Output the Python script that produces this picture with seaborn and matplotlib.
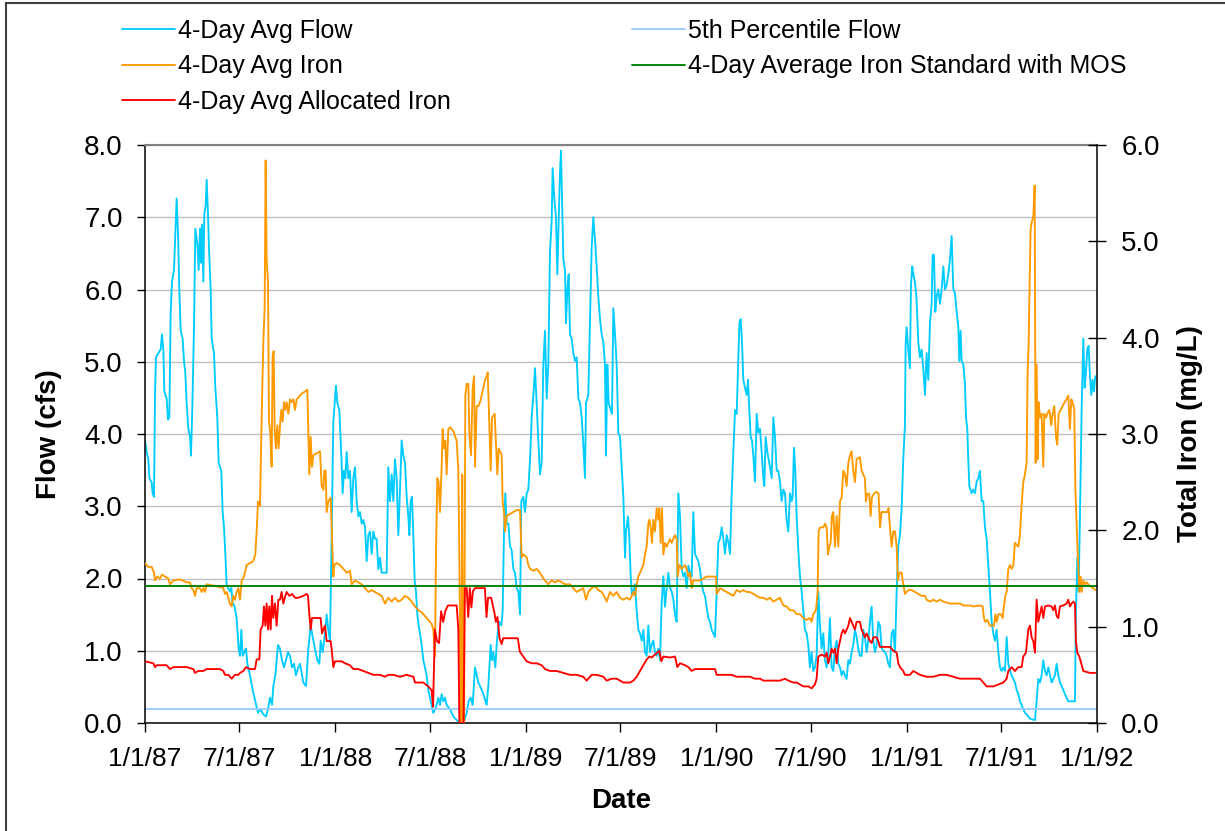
import numpy as np
import pandas as pd
import matplotlib
matplotlib.use("Agg")
import matplotlib.pyplot as plt
import matplotlib.dates as mdates
from matplotlib.ticker import FuncFormatter
import seaborn as sns

# days since 1/1/87 and values
flow_day = [0, 3.2, 6.4, 8.3, 12.8, 14.7, 17.3, 19.2, 21.1, 25.6, 30.0, 32.6, 35.2, 37.1, 41.5, 44.1, 46.7, 49.2, 51.8,
            55.6, 58.2, 60.7, 63.3, 65.8, 68.4, 72.2, 74.8, 77.3, 79.9, 83.1, 86.3, 88.2, 90.8, 94.0, 96.5, 100.4,
            102.9, 105.5, 107.4, 109.3, 111.9, 113.8, 116.3, 118.3, 120.8, 122.7, 125.9, 127.9, 132.3, 134.9, 138.7,
            141.3, 146.4, 148.9, 151.5, 154.1, 156.6, 159.2, 163.0, 165.6, 168.1, 172.0, 175.8, 179.6, 182.2, 184.8,
            187.3, 193.7, 196.3, 201.4, 206.5, 211.6, 216.7, 221.8, 226.9, 232.1, 235.9, 239.7, 243.6, 246.1, 250.0,
            252.5, 255.1, 258.9, 262.7, 266.6, 270.4, 274.2, 278.1, 281.9, 285.8, 289.6, 294.1,
            297.3, 303.7, 308.8, 313.3, 317.8, 321.6, 326.1, 330.5, 334.4, 336.9, 340.8, 345.2, 348.4, 351.6, 354.8,
            358.0, 361.2, 363.8, 366.3, 368.9, 372.7, 375.3, 377.2, 379.1, 381.7, 384.2, 386.8, 390.0, 393.2, 396.4,
            399.6, 402.8, 406.0, 409.2, 412.4, 415.6, 418.8, 422.0, 425.2, 428.4, 431.6, 434.8, 438.0, 441.1, 444.3,
            447.5, 450.7, 453.9, 463.5, 466.7, 469.9, 473.1, 476.3, 479.5, 482.7, 485.9, 489.1, 492.3, 495.5, 498.7,
            501.9, 505.1, 507.0, 509.5, 512.1, 514.7, 517.2, 519.8, 522.3, 524.9, 527.4, 530.6, 533.8, 537.0, 540.2,
            543.4, 546.6, 549.8, 553.0, 556.2, 559.4, 562.6, 565.8, 569.0, 572.2, 575.4, 578.6, 585.0, 591.4, 597.8,
            604.2, 610.6, 617.0, 620.8, 624.7, 628.5, 633.0, 636.2, 639.4, 645.8, 649.0, 655.3, 658.5, 663.0, 665.6,
            668.1, 672.0, 674.5, 677.1, 679.6, 683.5, 686.0, 688.6, 691.1, 693.7, 696.9, 700.1, 703.3, 706.5, 709.7,
            712.9, 716.1, 719.3, 721.8, 725.7, 728.9, 732.1, 735.3, 738.5, 741.7, 744.9, 748.0, 751.2, 754.4, 757.6,
            760.8, 764.0, 767.2, 770.4, 773.6, 776.8, 780.0, 781.9, 785.1, 788.3, 790.9, 793.4, 796.0, 797.9, 800.5,
            802.4, 805.6, 807.5, 810.1, 812.6, 815.2, 818.4, 821.6, 824.8, 828.0, 831.2, 834.4, 837.6, 840.7, 843.9,
            845.9, 850.3, 853.5, 856.7, 859.9, 863.1, 866.3, 869.5, 872.7, 875.9, 879.1, 882.3, 884.2, 886.8, 889.3,
            893.2, 895.7, 898.3, 901.5, 904.7, 907.9, 911.1,
            917.5, 920.7, 922.6, 926.4, 929.0, 931.6, 934.1, 936.7, 939.9, 943.1, 946.3, 949.5, 952.7, 955.9, 959.0,
            962.2, 965.4, 968.6, 971.8, 975.0, 978.2, 981.4, 984.6, 987.8, 991.0, 994.2, 997.4, 1000.6, 1003.8,
            1007.0, 1010.2, 1013.4, 1016.6, 1019.8, 1023.0, 1026.2, 1029.4, 1032.6, 1035.8, 1039.0, 1042.2, 1045.4,
            1048.5, 1051.7, 1054.9, 1058.1, 1061.3, 1064.5, 1067.7, 1070.9, 1074.1, 1077.3, 1080.5, 1083.7, 1086.9,
            1090.1, 1093.3, 1096.5, 1099.7, 1102.9, 1106.1, 1109.3, 1112.5, 1115.7, 1118.9, 1122.1, 1125.3, 1128.5,
            1131.7, 1134.9, 1138.0, 1140.0, 1142.5, 1145.1, 1147.6, 1150.8, 1154.0, 1156.6, 1159.1, 1161.7, 1164.3,
            1166.8, 1170.0, 1173.2, 1176.4, 1179.6, 1182.8, 1186.0, 1187.9, 1190.5, 1193.7, 1196.2, 1198.8, 1202.0,
            1205.2, 1208.4, 1211.6, 1214.8, 1218.0,
            1221.1, 1224.3, 1227.5, 1230.7, 1233.9, 1237.1, 1240.3, 1242.2, 1244.8, 1247.3, 1249.9, 1253.1, 1256.3,
            1259.5, 1262.7, 1265.8, 1269.0, 1272.2, 1275.4, 1278.6, 1281.8, 1285.0, 1288.2, 1291.4, 1294.6, 1297.8,
            1301.0, 1304.2, 1307.4, 1310.6, 1313.8, 1317.0, 1320.2, 1323.4, 1326.6, 1329.8, 1333.0, 1336.2, 1339.4,
            1342.6, 1345.8, 1349.0, 1352.2, 1355.3, 1358.5, 1361.7, 1364.9, 1368.1, 1371.3, 1374.5, 1377.7, 1380.9,
            1384.1, 1387.3, 1390.5, 1393.7, 1396.9, 1400.1, 1403.3, 1406.5, 1409.7, 1412.9, 1419.3, 1422.5, 1425.7,
            1428.9, 1432.1, 1435.3, 1438.5, 1441.7, 1444.9, 1448.1, 1451.3, 1454.4, 1457.6, 1458.9, 1460.8, 1464.0,
            1467.2, 1469.2, 1471.7, 1473.6, 1476.8, 1480.0, 1483.2, 1486.4, 1489.6, 1492.8, 1496.0, 1499.2, 1502.4,
            1505.6, 1508.8, 1510.7, 1513.3, 1515.8, 1518.4, 1521.6, 1524.8, 1528.0,
            1531.2, 1534.4, 1537.6, 1540.8, 1544.0, 1547.2, 1550.4, 1553.6, 1556.8, 1560.0, 1561.9, 1564.4, 1566.4,
            1569.6, 1572.7, 1574.7, 1577.2, 1579.1, 1581.1, 1585.5, 1588.7, 1591.9, 1595.1, 1598.3, 1601.5, 1604.7,
            1607.9, 1611.1, 1614.3, 1617.5, 1620.7, 1623.9, 1627.1, 1630.3, 1633.5, 1636.7, 1639.9, 1643.1, 1646.3,
            1649.5, 1652.7, 1655.9, 1659.1, 1662.3, 1665.5, 1668.6, 1671.8, 1675.0, 1678.2, 1681.4, 1684.6, 1687.8,
            1691.0, 1697.4, 1707.0, 1710.2, 1713.4, 1716.6, 1719.8, 1723.0, 1726.2, 1729.4, 1732.6, 1735.8, 1739.0,
            1742.2, 1745.4, 1748.6, 1751.8, 1755.0, 1758.2, 1761.3, 1764.5, 1767.7, 1770.9, 1783.7, 1785.6, 1788.2,
            1790.7, 1793.3, 1796.5, 1799.7, 1802.3, 1804.8, 1807.4, 1809.9, 1812.5, 1815.1, 1817.6, 1820.2, 1822.7]
flow_cfs = [3.91, 3.75, 3.65, 3.39, 3.33, 3.18, 3.13, 4.54, 5.06, 5.12, 5.17, 5.38, 5.17, 4.59, 4.49, 4.20, 4.23, 5.69, 6.11,
            6.27, 6.79, 7.26, 6.79, 6.00, 5.43, 5.32, 5.01, 4.85, 4.43, 4.07, 3.96, 3.70, 4.38, 5.48, 6.84, 6.63,
            6.27, 6.84, 6.37, 6.90, 6.11, 7.05, 7.16, 7.52, 7.05, 6.58, 6.00, 5.32, 5.12, 4.64, 4.23,
            3.60, 3.49, 2.92, 2.71, 2.34, 1.92, 1.87, 1.82, 1.87, 1.66, 1.61, 1.45, 1.03, 0.93, 1.29,
            0.93, 1.03, 0.82, 0.66, 0.46, 0.30, 0.14, 0.19, 0.12, 0.09, 0.19, 0.35, 0.25, 0.51, 0.66,
            0.87, 1.08, 1.03, 0.87, 0.77, 0.87, 0.98, 0.93, 0.77, 0.82, 0.66, 0.77,
            0.82, 0.56, 0.51, 1.03, 1.35, 1.19, 1.03, 0.87, 0.82, 1.14, 0.98, 1.24, 1.50, 1.29, 1.14,
            2.60, 4.17, 4.43, 4.67, 4.43, 4.33, 3.91, 3.60, 3.18, 3.49, 3.39, 3.75, 3.39, 3.49, 2.92,
            3.39, 3.54, 3.07, 2.86, 2.92, 2.76, 2.81, 2.71, 2.24, 2.60, 2.65, 2.34, 2.65, 2.55, 2.55,
            2.13, 2.29, 2.08, 2.08, 3.54, 3.07, 3.44, 3.07, 3.65, 3.39, 2.60, 3.23, 3.91, 3.70, 3.60,
            3.13, 2.86, 2.60, 3.07, 3.13, 2.60, 1.97, 1.82, 1.50, 1.35, 1.24, 1.08, 0.87, 0.77, 0.66,
            0.46, 0.35, 0.25, 0.14, 0.19, 0.25, 0.35, 0.25, 0.40, 0.30, 0.35, 0.25, 0.19, 0.09, 0.04,
            0.00, 0.00, 0.14, 0.30, 0.35, 0.25, 0.77, 0.66, 0.56, 0.46, 0.40, 0.25, 0.51, 1.08, 0.87,
            0.98, 0.77, 1.08, 1.29, 1.40, 1.35, 1.55, 2.65, 3.18, 2.76, 2.76, 2.45, 2.39, 2.13, 2.08,
            1.87, 1.82, 1.50, 3.07, 3.13, 2.92, 3.18, 3.23, 3.65, 4.23, 4.54, 4.91, 4.43, 3.91, 3.44,
            3.60, 4.96, 5.43, 4.49, 4.96, 6.53, 6.95, 7.68, 7.26, 7.00, 6.21, 6.95, 7.63, 7.92, 7.05,
            6.42, 6.27, 5.53, 6.00, 6.21, 5.38, 5.32, 5.12, 5.01, 5.06, 4.49, 4.43, 4.23, 3.86, 3.39,
            4.43, 4.54, 5.53, 6.58, 7.00, 6.69, 6.32, 5.90, 5.59, 5.38, 5.27, 4.96, 3.70, 4.96, 4.43,
            4.33, 4.28, 5.74, 5.38, 4.96, 4.02, 3.96,
            3.13, 2.29, 2.65, 2.86, 2.55, 2.03, 1.76, 1.82, 1.92, 1.55, 1.29, 1.24, 1.14, 1.29, 0.98,
            0.93, 1.35, 0.98, 1.08, 1.14, 0.98, 0.93, 1.03, 0.87, 1.66, 2.03, 1.61, 1.87, 2.08,
            1.87, 1.82, 1.71, 1.50, 1.40, 3.18, 2.86, 2.13, 2.03, 2.08, 1.87, 2.18, 2.08,
            2.03, 2.92, 2.34, 2.29, 2.24, 2.13, 1.92, 1.82, 1.76, 1.61, 1.45, 1.40, 1.29,
            1.24, 1.19, 1.82, 2.50, 2.55, 2.71, 2.55, 2.34, 2.60, 2.50, 2.34, 3.18, 3.75,
            4.33, 4.28, 5.06, 5.53, 5.59, 5.27, 4.75, 4.64, 4.54, 4.75, 4.33, 3.96, 3.91,
            3.70, 3.34, 4.28, 4.02, 4.07, 3.75, 3.39, 3.28, 3.96, 3.75, 3.65, 3.54, 3.39,
            4.23, 3.96, 3.49, 3.49, 3.34,
            3.07, 3.23, 3.18, 2.81, 2.65, 3.18, 3.07, 3.13, 3.81, 3.49, 2.86, 2.39, 2.03,
            1.82, 1.55, 1.29, 1.24, 1.08, 0.77, 0.98, 0.72, 0.77, 0.93, 1.82, 1.35, 1.03,
            1.24, 0.87, 0.77, 0.98, 1.45, 0.77, 0.72, 1.03, 1.14, 0.82, 0.77, 0.66, 0.72,
            0.66, 0.61, 0.87, 0.82, 0.98, 1.08, 1.29, 1.19, 1.03, 0.93, 0.93, 1.29, 1.19,
            0.98, 1.14, 1.40, 1.61, 1.14, 0.98, 1.08, 1.40, 1.35, 1.03, 0.98, 0.93, 0.82,
            0.77, 1.24, 1.29, 0.98, 1.82, 2.45, 2.60, 2.97, 3.65, 4.12, 5.22, 5.48, 5.17,
            4.91, 6.06, 6.32, 6.21, 6.11, 5.85, 5.27, 5.06, 5.17, 4.91, 4.54, 5.12, 4.75,
            5.53, 5.80, 6.48, 6.48, 5.69, 5.90, 6.00, 5.80, 6.00,
            6.32, 6.00, 6.06, 6.21, 6.42, 6.74, 6.00, 5.95, 5.69, 5.48, 5.01, 5.43, 5.01,
            4.96, 4.70, 4.23, 4.07, 3.65, 3.28, 3.18, 3.23, 3.18, 3.34, 3.39, 3.49, 3.07,
            3.07, 2.71, 2.55, 2.18, 1.82, 1.40, 1.24, 1.14, 1.29, 0.98, 0.77, 0.72, 0.77,
            0.72, 1.19, 0.82, 0.72, 0.66, 0.61, 0.56, 0.46, 0.40, 0.30, 0.25, 0.19, 0.14,
            0.12, 0.06, 0.04, 0.30, 0.61, 0.56, 0.66, 0.87, 0.72, 0.66, 0.77, 0.66, 0.56,
            0.61, 0.66, 0.82, 0.66, 0.56, 0.51, 0.46, 0.40, 0.35, 0.30, 0.30, 1.55, 2.29,
            1.82, 2.86, 4.33, 5.32, 4.64, 4.85, 5.17, 5.22, 4.80, 4.54, 4.75, 4.59, 4.80]

iron_day = [0, 6.4, 12.8, 17.3, 19.2, 23.6, 28.8, 32.6, 38.3, 44.7, 47.9, 54.3, 67.1, 79.9, 86.3, 89.5, 92.7, 95.9,
            99.1, 105.5, 108.7, 111.9, 115.1, 118.3, 137.4, 150.2, 153.4, 156.6, 159.8, 163.0, 166.2, 169.4, 172.6,
            175.8, 179.0, 182.2, 185.4, 189.9, 195.0, 201.4, 207.8, 211.6, 214.2, 216.7, 220.6, 221.8, 224.4, 226.9,
            229.5, 231.4, 233.3, 235.9, 237.8, 240.4, 242.9, 244.8, 246.8, 248.7, 251.2, 253.8, 256.3, 258.9, 261.5,
            264.0, 266.6, 269.1, 271.7, 274.9, 278.1, 281.3, 284.5, 287.7, 290.9, 297.3,
            300.5, 306.9, 311.4, 313.3, 315.2, 317.8, 320.3, 322.9, 335.7, 338.9, 342.1, 344.0, 346.5, 348.4, 351.6,
            356.1, 358.7, 361.2, 363.1, 367.6, 374.0, 380.4, 386.8, 393.2, 396.4, 402.8, 409.2, 415.6, 422.0, 428.4,
            434.8, 441.1, 447.5, 453.9, 460.3, 466.7, 473.1, 479.5, 485.9, 492.3, 498.7, 505.1, 511.5, 517.9, 524.3,
            530.6, 537.0, 543.4, 549.8, 553.0, 556.2, 558.1, 560.7, 563.2, 565.8, 569.0, 570.9, 573.5, 576.0, 578.6,
            581.8, 585.0, 591.4, 597.8, 601.0, 602.9, 604.8, 606.7, 608.5, 610.0, 612.0,
            614.4, 617.0, 620.2, 622.1, 625.3, 628.5, 631.1, 633.0, 636.2, 639.4, 642.6, 645.8, 649.0, 652.1, 655.3,
            657.3, 660.5, 663.0, 665.6, 670.7, 673.2, 675.8, 678.4, 684.1, 686.0, 688.6, 690.5, 693.7, 700.1, 712.9,
            719.3, 722.5, 725.7, 732.1, 735.3, 738.5, 744.9, 751.2, 757.6, 764.0, 767.2, 773.6, 780.0, 786.4, 792.8,
            799.2, 805.6, 815.2, 821.6, 828.0, 834.4, 840.7, 845.9, 850.3, 856.7, 863.1, 869.5, 875.9, 882.3, 885.5,
            891.9, 898.3, 904.7, 911.1,
            917.5, 923.9, 930.3, 936.7, 939.9, 943.1, 946.3, 949.5, 955.9, 959.0, 962.2, 965.4, 967.4, 969.9, 972.5,
            975.0, 978.2, 981.4, 984.6, 986.5, 989.1, 991.6, 994.2, 997.4, 1000.6, 1003.8, 1007.0, 1010.2, 1013.4,
            1016.6, 1019.8, 1021.7, 1024.9, 1029.4, 1035.8, 1039.0, 1042.2, 1045.4, 1048.5, 1051.7, 1064.5, 1070.9,
            1077.3, 1095.2, 1096.5, 1102.9, 1109.3, 1115.7, 1122.1, 1128.5, 1134.9, 1141.3, 1147.6, 1154.0, 1160.4,
            1166.8, 1173.2, 1179.6, 1186.0, 1192.4, 1198.8, 1205.2, 1211.6, 1218.0,
            1224.3, 1230.7, 1237.1, 1243.5, 1249.9, 1256.3, 1262.7, 1269.0, 1275.4, 1278.6, 1281.8, 1287.0, 1290.1,
            1292.1, 1294.6, 1301.0, 1304.2, 1307.4, 1310.0, 1312.5, 1315.1, 1317.6, 1320.2, 1323.4, 1326.6, 1329.8,
            1333.0, 1336.2, 1339.4, 1342.6, 1345.8, 1349.0, 1352.2, 1355.3, 1358.5, 1361.7, 1364.9, 1371.3, 1374.5,
            1377.7, 1380.9, 1382.8, 1385.4, 1389.2, 1391.8, 1394.3, 1398.2, 1403.3, 1407.1, 1409.7, 1412.9, 1423.8,
            1426.3, 1428.9, 1432.1, 1435.3, 1438.5, 1441.7, 1444.2, 1446.8, 1451.3, 1454.4, 1457.6, 1464.0, 1470.4,
            1476.8, 1483.2, 1489.6, 1496.0, 1499.2, 1505.6, 1512.0, 1518.4, 1524.8,
            1531.2, 1544.0, 1563.2, 1569.6, 1582.3, 1588.7, 1601.5, 1606.6, 1609.2, 1611.7, 1615.6, 1620.7, 1628.4,
            1630.9, 1633.5, 1636.7, 1641.2, 1645.0, 1647.5, 1650.1, 1652.7, 1655.9, 1659.1, 1662.3, 1665.5, 1668.6,
            1675.0, 1678.2, 1681.4, 1684.6, 1687.8, 1691.0, 1692.9, 1694.9, 1696.8, 1698.7, 1701.2, 1703.8, 1706.4,
            1708.3, 1710.2, 1712.1, 1714.0, 1716.6, 1719.8, 1723.0, 1724.9, 1728.1, 1730.7, 1734.5, 1738.3, 1740.9,
            1744.1, 1747.3, 1749.8, 1752.4, 1756.2, 1760.1, 1763.9, 1767.7, 1770.9, 1774.1, 1776.7, 1779.2, 1782.4,
            1784.4, 1786.9, 1789.5, 1792.0, 1794.6, 1796.5, 1799.7, 1802.9, 1806.1, 1812.5, 1818.9, 1822.7]
iron_mgl = [1.66, 1.62, 1.62, 1.56, 1.48, 1.52, 1.50, 1.54, 1.52, 1.50, 1.44, 1.48, 1.49, 1.46, 1.46, 1.40, 1.38, 1.32,
            1.40, 1.40, 1.36, 1.40, 1.36, 1.44, 1.42, 1.40, 1.34, 1.36, 1.30, 1.24, 1.21, 1.32, 1.28,
            1.36, 1.40, 1.28, 1.48, 1.52, 1.64, 1.66, 1.68, 1.75, 1.99, 2.30, 2.25, 2.62, 3.33, 3.95,
            4.31, 5.84, 4.82, 4.58, 3.13, 3.01, 2.66, 3.80, 3.86, 3.05, 2.85, 3.09, 2.85, 3.09, 3.25,
            3.13, 3.33, 3.25, 3.33, 3.21, 3.36, 3.33, 3.36, 3.25, 3.36, 3.40,
            3.42, 3.44, 3.46, 3.01, 2.58, 2.97, 2.66, 2.78, 2.82, 2.46, 2.42, 2.62, 2.62, 2.19, 2.30,
            2.34, 1.91, 1.52, 1.64, 1.66, 1.64, 1.60, 1.56, 1.58, 1.44, 1.48, 1.46, 1.44, 1.40, 1.36,
            1.38, 1.36, 1.34, 1.32, 1.24, 1.30, 1.26, 1.30, 1.26, 1.28, 1.32, 1.30, 1.26, 1.21, 1.17,
            1.15, 1.11, 1.07, 1.03, 0.97, 0.69, 1.75, 2.54, 2.50, 2.19, 2.66, 3.05, 2.85, 2.93, 2.58,
            3.05, 3.07, 3.03, 2.93, 2.62, 1.75, 0.58, 0.00, 2.58, 0.00, 0.00,
            3.40, 3.52, 3.52, 3.01, 2.78, 3.48, 3.60, 2.66, 3.29, 3.29, 3.33, 3.40, 3.48, 3.56, 3.60,
            3.64, 3.09, 2.62, 3.17, 3.21, 2.89, 2.58, 2.85, 2.78, 2.30, 2.19, 1.99, 2.15, 2.17, 2.21,
            2.21, 1.72, 1.75, 1.72, 1.64, 1.60, 1.58, 1.60, 1.56, 1.50, 1.48, 1.44, 1.48, 1.46, 1.48,
            1.46, 1.44, 1.44, 1.40, 1.36, 1.38, 1.40, 1.28, 1.36, 1.40, 1.42, 1.38, 1.36, 1.30, 1.26,
            1.36, 1.32, 1.36, 1.30,
            1.28, 1.30, 1.28, 1.36, 1.32, 1.44, 1.52, 1.56, 1.64, 1.75, 1.83, 2.07, 2.11, 2.03, 1.87,
            2.11, 1.99, 2.23, 2.11, 2.23, 1.87, 2.23, 1.75, 1.87, 1.83, 1.87, 1.91, 1.87, 1.91,
            1.95, 1.91, 1.52, 1.64, 1.60, 1.64, 1.60, 1.52, 1.56, 1.40, 1.48, 1.48, 1.50,
            1.52, 1.52, 1.34, 1.40, 1.38, 1.36, 1.34, 1.32, 1.38, 1.36, 1.38, 1.36, 1.36,
            1.34, 1.32, 1.30, 1.30, 1.28, 1.30, 1.26, 1.28, 1.30,
            1.22, 1.21, 1.17, 1.17, 1.13, 1.13, 1.09, 1.07, 1.09, 1.05, 1.13, 1.17, 1.36,
            1.99, 2.03, 2.03, 2.07, 2.03, 1.75, 1.83, 1.87, 2.15, 2.19, 1.83, 2.15, 1.83,
            2.30, 2.34, 2.62, 2.58, 2.46, 2.70, 2.78, 2.82, 2.62, 2.50, 2.74, 2.76, 2.62,
            2.58, 2.54, 2.30, 2.38, 2.38, 2.15, 2.34, 2.38, 2.40, 2.38, 2.03, 2.19, 2.19,
            2.23, 2.03, 1.83, 1.99, 1.99, 1.83, 1.48, 1.56, 1.56, 1.44, 1.34, 1.38, 1.38,
            1.36, 1.34, 1.32, 1.32, 1.28, 1.26, 1.28, 1.26, 1.28,
            1.26, 1.24, 1.24, 1.22, 1.22, 1.21, 1.22, 1.21, 1.09, 1.05, 1.07, 1.01, 1.01,
            1.13, 1.05, 1.13, 1.13, 1.09, 1.21, 1.32, 1.36, 1.60, 1.64, 1.60, 1.64, 1.87,
            1.83, 1.95, 2.27, 2.50, 2.58, 2.70, 3.64, 3.95, 4.58, 5.13, 5.21, 5.25, 5.58,
            2.70, 3.72, 2.74, 3.33, 3.17, 3.21, 2.66, 3.21, 3.17, 3.21, 3.25, 3.09, 3.21,
            3.29, 2.97, 2.89, 3.21, 3.25, 3.29, 3.33, 3.36, 3.40, 3.05, 3.36, 3.33, 3.25,
            2.46, 2.07, 1.72, 1.36, 1.52, 1.36, 1.48, 1.44, 1.46, 1.42, 1.40, 1.38]

alloc_day = [0, 16.0, 19.2, 22.4, 41.5, 47.9, 54.3, 79.9, 92.7, 95.9, 102.3, 111.9, 118.3, 143.8, 150.2, 153.4,
             159.8, 166.2, 172.6, 179.0, 182.2, 188.6, 193.7, 201.4, 210.9, 214.2, 219.3, 221.8, 225.7, 228.2,
             230.8, 233.3, 235.9, 238.4, 241.0, 243.6, 246.1, 249.3, 252.5, 255.7, 258.9, 262.1, 265.3, 269.1,
             271.7, 276.8, 281.9, 287.7, 294.1,
             303.7, 310.1, 312.6, 315.2, 317.8, 320.3, 336.9, 339.5, 342.1, 345.2, 348.4, 356.1, 358.7, 361.2,
             364.4, 377.2, 383.6, 393.2, 399.6, 409.2, 418.8, 428.4, 438.0, 450.7, 460.3, 466.7, 476.3, 489.1,
             501.9, 514.7, 517.9, 533.8, 543.4, 549.8, 552.5, 556.0, 560.0, 564.0, 568.0, 572.0, 576.0, 581.0,
             597.8, 601.0, 603.0, 611.0, 613.5, 617.0, 620.0, 623.0, 626.0, 629.0, 633.0, 646.0, 652.0, 655.0,
             658.0, 664.0, 670.0, 673.0, 676.0, 680.0, 684.0, 687.0, 715.0, 719.0,
             732.1, 741.7, 751.2, 760.8, 767.2, 776.8, 789.6, 802.4, 815.2, 828.0, 840.7, 847.1, 856.7, 866.3,
             879.1, 885.5, 895.1, 904.7, 911.1,
             917.5, 930.3, 936.7, 943.1, 949.5, 955.9, 962.2, 967.4, 971.8, 978.2, 982.7, 986.5, 990.4, 994.2,
             1007.0, 1016.6, 1021.1, 1026.2, 1035.8, 1042.2, 1048.5, 1054.9, 1093.3, 1096.5, 1125.3, 1134.9,
             1160.4, 1170.0, 1179.6, 1186.0, 1218.0,
             1227.5, 1233.9, 1243.5, 1249.9, 1256.3, 1262.7, 1272.2, 1278.6, 1285.0, 1288.2, 1291.4, 1297.8,
             1304.2, 1307.4, 1310.6, 1313.8, 1317.0, 1320.2, 1323.4, 1326.6, 1329.8, 1333.0, 1336.2, 1339.4,
             1342.6, 1345.8, 1349.0, 1352.2, 1355.3, 1358.5, 1361.7, 1364.9, 1371.3, 1374.5, 1377.7, 1380.9,
             1384.1, 1387.3, 1390.5, 1393.7, 1396.9, 1403.3, 1406.5, 1409.7, 1428.9, 1435.3, 1441.7, 1444.9,
             1448.1, 1454.4, 1457.6, 1467.2, 1473.6, 1480.0, 1486.4, 1499.2, 1512.0, 1524.8,
             1537.6, 1550.4, 1563.2, 1601.5, 1607.9, 1614.3, 1627.1, 1636.7, 1646.3, 1652.7, 1655.9, 1662.3,
             1668.6, 1675.0, 1681.4, 1684.6, 1689.7, 1694.2, 1697.4, 1700.6, 1703.8, 1707.0, 1710.2, 1713.4,
             1716.6, 1719.8, 1723.0, 1726.2, 1732.6, 1739.0, 1742.2, 1745.4, 1748.6, 1751.8, 1755.0, 1761.3,
             1767.7, 1770.9, 1774.1, 1777.3, 1780.5, 1783.7, 1785.6, 1788.2, 1792.0, 1795.8, 1799.7, 1812.5,
             1822.7]
alloc_mgl = [0.64, 0.62, 0.58, 0.60, 0.60, 0.56, 0.58, 0.58, 0.56, 0.52, 0.54, 0.54, 0.56, 0.56, 0.54, 0.50,
             0.50, 0.46, 0.50, 0.50, 0.52, 0.54, 0.58, 0.56, 0.56, 0.66, 0.66, 0.97, 1.01, 1.21,
             1.01, 1.24, 0.97, 1.21, 0.97, 1.32, 1.09, 1.24, 1.01, 1.28, 1.28, 1.36, 1.24, 1.32,
             1.36, 1.32, 1.34, 1.30, 1.30,
             1.32, 1.34, 1.32, 1.13, 0.97, 1.09, 1.09, 0.93, 0.97, 1.01, 0.85, 0.85, 0.73, 0.58,
             0.64, 0.64, 0.62, 0.60, 0.56, 0.56, 0.54, 0.52, 0.50, 0.50, 0.48, 0.50, 0.50, 0.48,
             0.50, 0.48, 0.42, 0.42, 0.38, 0.34, 0.17, 0.97, 0.85, 0.83, 1.16, 1.05, 1.16, 1.22,
             1.22, 0.97, 0.00, 0.00, 1.40, 1.40, 1.10, 1.40, 1.20, 1.37, 1.40, 1.40, 1.40, 1.10,
             1.30, 1.30, 1.15, 1.05, 1.10, 0.88, 0.82, 0.88, 0.88, 0.74,
             0.64, 0.62, 0.62, 0.60, 0.56, 0.54, 0.54, 0.52, 0.50, 0.50, 0.48, 0.44, 0.50, 0.50,
             0.48, 0.44, 0.46, 0.46, 0.44,
             0.42, 0.42, 0.44, 0.48, 0.54, 0.60, 0.66, 0.69, 0.68, 0.71, 0.73, 0.75, 0.64, 0.69,
             0.68, 0.69, 0.58, 0.62, 0.60, 0.58, 0.54, 0.56, 0.56, 0.50, 0.50, 0.48,
             0.48, 0.46, 0.46, 0.44, 0.44,
             0.46, 0.44, 0.42, 0.42, 0.40, 0.38, 0.38, 0.36, 0.40, 0.46, 0.69, 0.71,
             0.69, 0.73, 0.62, 0.69, 0.77, 0.73, 0.77, 0.62, 0.77, 0.85, 0.93, 0.97,
             0.93, 0.97, 1.01, 1.09, 1.05, 1.01, 0.97, 1.05, 1.05, 0.97, 0.93, 0.89,
             0.93, 0.89, 0.85, 0.83, 0.89, 0.89, 0.85, 0.79, 0.79, 0.75, 0.73, 0.62,
             0.58, 0.54, 0.50, 0.50, 0.54, 0.52, 0.50, 0.48, 0.48, 0.50,
             0.50, 0.48, 0.46, 0.46, 0.42, 0.38, 0.38, 0.40, 0.42, 0.46, 0.54, 0.58,
             0.54, 0.58, 0.58, 0.69, 0.73, 0.97, 1.01, 0.89, 0.85, 0.73, 1.28, 1.05,
             1.13, 1.21, 1.09, 1.21, 1.22, 1.21, 1.17, 1.22, 1.11, 1.09, 1.21, 1.22,
             1.24, 1.28, 1.21, 1.24, 1.26, 1.24, 0.85, 0.73, 0.69, 0.62, 0.54, 0.52,
             0.52]

pct5_flow = 0.2        # cfs
iron_std_mos = 1.425   # mg/L

start = pd.Timestamp("1987-01-01")
end = pd.Timestamp("1992-01-01")


def to_dates(days):
    return start + pd.to_timedelta(np.array(days), unit="D")


sns.set_theme(style="white", rc={"text.color": "black", "axes.labelcolor": "black",
                                 "xtick.color": "black", "ytick.color": "black"})
plt.rcParams["font.family"] = ["Liberation Sans", "DejaVu Sans"]

W, H = 1225, 831
fig = plt.figure(figsize=(W / 100, H / 100), dpi=100)
ax = fig.add_axes([145 / W, 1 - 723 / H, (1097 - 145) / W, (723 - 145) / H])
ax2 = ax.twinx()

lw = 1.35
sns.lineplot(x=to_dates(flow_day), y=flow_cfs, ax=ax, color="#00CCFF", lw=lw, estimator=None)
l_flow = ax.lines[-1]
l_pct = ax.axhline(pct5_flow, color="#99CCFF", lw=lw)

sns.lineplot(x=to_dates(iron_day), y=iron_mgl, ax=ax2, color="#FF9900", lw=lw, estimator=None)
l_iron = ax2.lines[-1]
sns.lineplot(x=to_dates(alloc_day), y=alloc_mgl, ax=ax2, color="#FF0000", lw=lw, estimator=None)
l_alloc = ax2.lines[-1]
l_std = ax2.axhline(iron_std_mos, color="#008000", lw=lw)

ax.set_xlim(start, end)
ax.set_ylim(0, 8)
ax2.set_ylim(0, 6)
ax.set_yticks(np.arange(0, 9, 1))
ax2.set_yticks(np.arange(0, 7, 1))
ax.yaxis.set_major_formatter(FuncFormatter(lambda v, p: f"{v:.1f}"))
ax2.yaxis.set_major_formatter(FuncFormatter(lambda v, p: f"{v:.1f}"))

ax.set_xticks(pd.date_range(start, end, freq="6MS"))
ax.xaxis.set_major_formatter(FuncFormatter(
    lambda v, p: (lambda d: f"{d.month}/{d.day}/{d.strftime('%y')}")(mdates.num2date(v))))

ax.grid(axis="y", color="#C0C0C0", lw=1)
ax.grid(axis="x", visible=False)
ax2.grid(False)
ax.set_axisbelow(True)

ax.tick_params(axis="y", direction="out", length=6, width=1, labelsize=20, pad=10, left=True, colors="black")
ax.tick_params(axis="x", direction="out", length=6.5, width=1, labelsize=19, pad=11, bottom=True, colors="black")
ax2.tick_params(axis="y", direction="inout", length=13, width=1, labelsize=20, pad=11, right=True, colors="black")

for s in ["left", "bottom"]:
    ax.spines[s].set_color("black")
    ax.spines[s].set_linewidth(1.1)
ax.spines["top"].set_color("#808080")
ax.spines["top"].set_linewidth(1.5)
ax.spines["right"].set_visible(False)
for s in ["left", "bottom", "top"]:
    ax2.spines[s].set_visible(False)
ax2.spines["right"].set_color("black")
ax2.spines["right"].set_linewidth(1.1)

ax.set_xlabel("Date", fontsize=20, fontweight="bold")
ax.xaxis.set_label_coords(0.5, -0.112)
ax.set_ylabel("Flow (cfs)", fontsize=20, fontweight="bold")
ax.yaxis.set_label_coords(-0.087, 0.5)
ax2.set_ylabel("Total Iron (mg/L)", fontsize=20, fontweight="bold", rotation=90)
ax2.yaxis.set_label_coords(1.084, 0.5)

leg_kw = dict(loc="upper left", frameon=False, fontsize=18, handlelength=2.1, handletextpad=0.15,
              labelspacing=0.45, borderpad=0, borderaxespad=0, labelcolor="black")
fig.legend([l_flow, l_iron, l_alloc], ["4-Day Avg Flow", "4-Day Avg Iron", "4-Day Avg Allocated Iron"],
           bbox_to_anchor=(122 / W, 1 - 19 / H), **leg_kw)
fig.legend([l_pct, l_std], ["5th Percentile Flow", "4-Day Average Iron Standard with MOS"],
           bbox_to_anchor=(632 / W, 1 - 19 / H), **leg_kw)

# outer frame (left and top edges visible)
fig.add_artist(plt.Rectangle((6 / W, -0.05), 1.2, 1.05 - 3 / H, transform=fig.transFigure,
                             fill=False, edgecolor="#404040", lw=1.5))

fig.savefig("out.png", dpi=100)
